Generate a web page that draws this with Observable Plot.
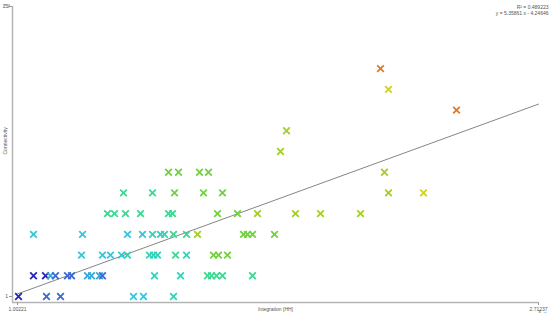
<!DOCTYPE html>
<html><head><meta charset="utf-8">
<script src="https://cdn.jsdelivr.net/npm/d3@7"></script>
<script src="https://cdn.jsdelivr.net/npm/@observablehq/plot@0.6"></script>
<style>body{margin:0;background:#fff}</style>
</head><body><div id="chart"></div>
<script>
const integration = [
  1.0055, 1.0974, 1.1434, 1.3830, 1.4158, 1.5143,
  1.0547, 1.0941, 1.1105, 1.1269, 1.1663, 1.1795, 1.2320, 1.2451, 1.2714, 1.2812, 1.4519, 1.5373, 1.6259, 1.6390, 1.6554, 1.6751, 1.7736,
  1.2123, 1.2812, 1.3075, 1.3436, 1.3633, 1.4355, 1.4487, 1.4618, 1.5209, 1.5570, 1.6456, 1.6620, 1.6915,
  1.0547, 1.2156, 1.3633, 1.4125, 1.4454, 1.4716, 1.4847, 1.5143, 1.5570, 1.5931, 1.7441, 1.7572, 1.7736, 1.8458,
  1.2976, 1.3206, 1.3567, 1.4060, 1.4979, 1.5110, 1.6587, 1.7244, 1.7900, 1.9147, 1.9968, 2.1281,
  1.3502, 1.4454, 1.5176, 1.6128, 1.6751, 2.2200, 2.3349,
  1.4979, 1.5307, 1.5996, 1.6292, 2.2069,
  1.8655, 1.8852, 2.4432, 2.2200, 2.1938
];
const connectivity = [
  1, 1, 1, 1, 1, 1,
  2, 2, 2, 2, 2, 2, 2, 2, 2, 2, 2, 2, 2, 2, 2, 2, 2,
  3, 3, 3, 3, 3, 3, 3, 3, 3, 3, 3, 3, 3,
  4, 4, 4, 4, 4, 4, 4, 4, 4, 4, 4, 4, 4, 4,
  5, 5, 5, 5, 5, 5, 5, 5, 5, 5, 5, 5,
  6, 6, 6, 6, 6, 6, 6,
  7, 7, 7, 7, 7,
  8, 9, 10, 11, 12
];
const level = [
  1, 2, 2, 4, 4, 5,
  1, 1, 3, 2, 2, 2, 3, 3, 3, 2, 5, 5, 6, 6, 6, 6, 6,
  4, 4, 4, 4, 5, 5, 5, 5, 6, 5, 7, 7, 7,
  4, 4, 4, 4, 5, 5, 5, 6, 6, 8, 7, 7, 7, 7,
  6, 6, 6, 6, 6, 6, 7, 7, 8, 8, 8, 8,
  6, 6, 7, 7, 7, 8, 9,
  7, 7, 7, 7, 8,
  8, 8, 10, 9, 10
];
const levelDomain = [1, 2, 3, 4, 5, 6, 7, 8, 9, 10];
const levelColors = ["#2424b8", "#3a68cf", "#33a8dc", "#36c6da", "#33d2b8", "#3ad890", "#6fd23c", "#a2cf22", "#cfd21e", "#df7a26"];
const xTicks = [1.00221, 2.71237];
const xTickLabels = ["1.00221", "2.71237"];
const yTicks = [1, 15];
const yTickLabels = ["1", "15"];
const slope = 5.35861, intercept = -4.24646, r2 = 0.489223;

const data = integration.map((x, i) => ({x, y: connectivity[i], c: level[i]}));
const fit = xTicks.map(x => ({x, y: slope * x + intercept}));
const font = "'Liberation Sans', Arial, sans-serif";

const chart = Plot.plot({
  width: 550, height: 315,
  marginLeft: 12, marginRight: 12, marginTop: 6, marginBottom: 13,
  style: {fontFamily: font, fontSize: "5px", background: "#fff", color: "#555"},
  x: {domain: xTicks, insetLeft: 5, axis: null},
  y: {domain: [yTicks[0], yTicks[1]], insetBottom: 6, axis: null},
  color: {type: "ordinal", domain: levelDomain, range: levelColors},
  marks: [
    Plot.ruleX([xTicks[0]], {dx: -5, stroke: "#b5b5b5", strokeWidth: 1.5}),
    Plot.ruleY([yTicks[0]], {dy: 6, stroke: "#b5b5b5", strokeWidth: 1.5}),
    Plot.axisX(xTicks, {anchor: "bottom", tickSize: 3, tickPadding: 1.5, stroke: "#999", fill: "#555", fontSize: 5,
      tickFormat: d => xTickLabels[xTicks.indexOf(d)]}),
    Plot.axisY(yTicks, {anchor: "left", tickSize: 3, tickPadding: 1.5, stroke: "#999", fill: "#555", fontSize: 5,
      tickFormat: d => yTickLabels[yTicks.indexOf(d)]}),
    Plot.text(["Integration [HH]"], {frameAnchor: "bottom", dy: 8, fontSize: 5, fill: "#555"}),
    Plot.text(["Connectivity"], {frameAnchor: "left", dx: -7, rotate: -90, fontSize: 5, fill: "#555"}),
    Plot.text([`R² = ${r2}`], {frameAnchor: "top-right", dx: 10, dy: -1, textAnchor: "end", fontSize: 5, fill: "#555"}),
    Plot.text([`y = ${slope} x - ${Math.abs(intercept)}`], {frameAnchor: "top-right", dx: 10, dy: 5, textAnchor: "end", fontSize: 5, fill: "#555"}),
    Plot.line(fit, {x: "x", y: "y", stroke: "#666", strokeWidth: 0.8}),
    Plot.dot(data, {x: "x", y: "y", stroke: "c", symbol: "times", r: 3.1, strokeWidth: 1.8})
  ]
});
document.getElementById("chart").appendChild(chart);
</script>
</body></html>
